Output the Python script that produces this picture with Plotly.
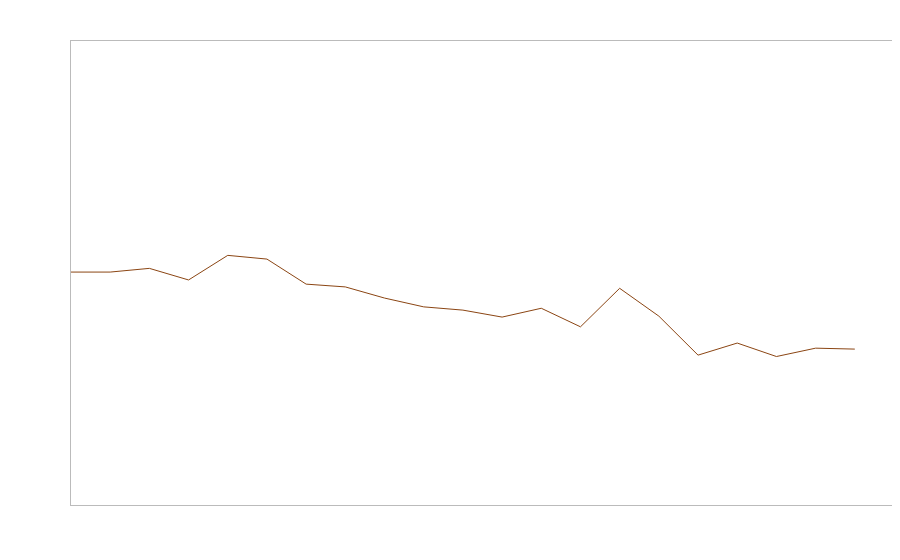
import plotly.graph_objects as go

# x positions (period index) and values
periods = list(range(21))
values = [50.2, 50.2, 51.0, 48.5, 53.8, 53.0, 47.6, 47.0, 44.6, 42.7, 42.0,
          40.5, 42.4, 38.4, 46.7, 40.7, 32.3, 34.9, 32.0, 33.8, 33.6]

fig = go.Figure()

fig.add_trace(go.Scatter(
    x=periods,
    y=values,
    mode='lines',
    line=dict(color='#8B4513', width=1),
    hoverinfo='skip',
    showlegend=False
))

axis_style = dict(
    showgrid=False,
    zeroline=False,
    showticklabels=False,
    ticks='',
    showline=True,
    mirror=True,
    linecolor='#bbbbbb',
    linewidth=1
)

# page body adds ~8px offset, so margins are trimmed accordingly
fig.update_layout(
    width=900,
    height=560,
    margin=dict(l=63, r=14, t=33, b=63),
    paper_bgcolor='white',
    plot_bgcolor='white',
    xaxis=dict(range=[0, 21], **axis_style),
    yaxis=dict(range=[0, 100], **axis_style),
)

fig.write_html("out.html")
